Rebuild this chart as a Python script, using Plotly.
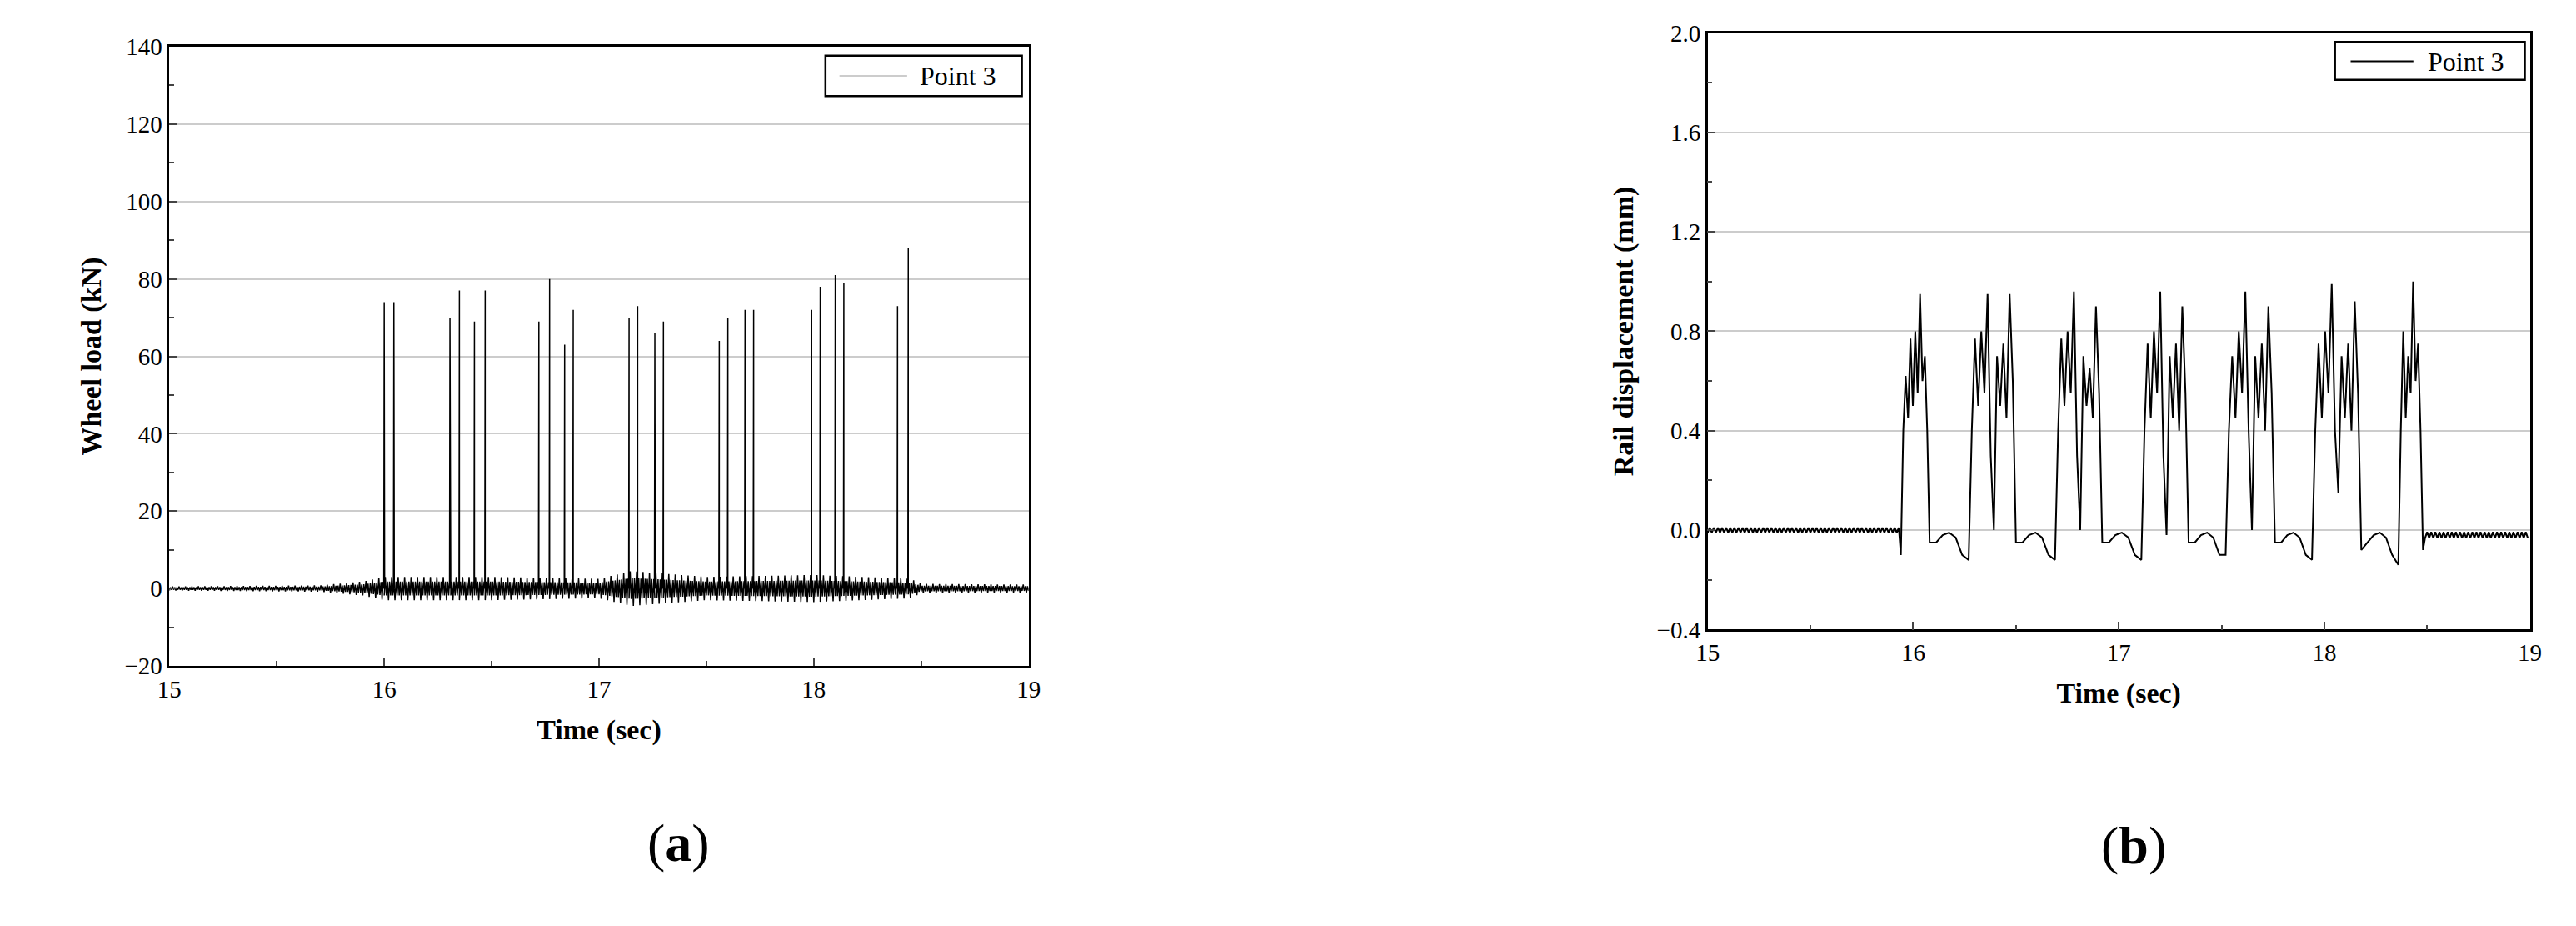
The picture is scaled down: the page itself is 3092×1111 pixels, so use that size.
import plotly.graph_objects as go

# ---------- data (a) wheel load ----------
spike_t = [16.00, 16.045, 16.306, 16.35, 16.42, 16.47, 16.72, 16.77, 16.84, 16.88,
           17.14, 17.18, 17.26, 17.30, 17.56, 17.60, 17.68, 17.72, 17.99, 18.03,
           18.10, 18.14, 18.39, 18.44]
spike_v = [74, 74, 70, 77, 69, 77, 69, 80, 63, 72,
           70, 73, 66, 69, 64, 70, 72, 72, 72, 78,
           81, 79, 73, 88]
noise_t = [15.0, 15.7, 15.9, 16.0, 16.5, 17.0, 17.15, 17.5, 18.0, 18.45, 18.5, 19.0]
noise_a = [0.5, 0.8, 1.8, 3.0, 3.0, 2.5, 4.5, 3.0, 3.5, 2.5, 1.2, 1.0]

# ---------- data (b) rail displacement ----------
grp_start = [15.94, 16.27, 16.69, 17.11, 17.52, 17.94, 18.36]
grp_end = [16.08, 16.50, 16.92, 17.34, 17.76, 18.18, 18.48]
grp_vals = [
    [-0.10, 0.40, 0.62, 0.45, 0.77, 0.50, 0.80, 0.55, 0.95, 0.60, 0.70, 0.40, -0.05],
    [-0.12, 0.40, 0.77, 0.50, 0.80, 0.55, 0.95, 0.30, 0.0, 0.70, 0.50, 0.75, 0.45, 0.95, 0.60, -0.05],
    [-0.12, 0.40, 0.77, 0.50, 0.80, 0.55, 0.96, 0.30, 0.0, 0.70, 0.50, 0.65, 0.45, 0.90, 0.55, -0.05],
    [-0.12, 0.40, 0.75, 0.45, 0.80, 0.55, 0.96, 0.30, -0.02, 0.70, 0.45, 0.75, 0.40, 0.90, 0.55, -0.05],
    [-0.10, 0.40, 0.70, 0.45, 0.80, 0.55, 0.96, 0.40, 0.0, 0.70, 0.45, 0.75, 0.40, 0.90, 0.55, -0.05],
    [-0.12, 0.40, 0.75, 0.45, 0.80, 0.55, 0.99, 0.40, 0.15, 0.70, 0.45, 0.75, 0.40, 0.92, 0.55, -0.08],
    [-0.14, 0.40, 0.80, 0.45, 0.70, 0.55, 1.00, 0.60, 0.75, 0.40, -0.08],
]
gap_vals = [-0.05, -0.02, -0.01, -0.03, -0.10]

# ---------- build series ----------
def envelope(t):
    for i in range(len(noise_t) - 1):
        if noise_t[i] <= t <= noise_t[i + 1]:
            f = (t - noise_t[i]) / (noise_t[i + 1] - noise_t[i])
            return noise_a[i] + f * (noise_a[i + 1] - noise_a[i])
    return noise_a[-1]

xa, ya = [], []
n = 800
spikes = sorted(zip(spike_t, spike_v))
si = 0
for k in range(n + 1):
    t = 15 + 4 * k / n
    while si < len(spikes) and spikes[si][0] <= t:
        st, sv = spikes[si]
        xa += [st - 0.002, st, st + 0.002]
        ya += [0, sv, 0]
        si += 1
    s = 1 if k % 2 else -1
    xa.append(t)
    ya.append(s * envelope(t) * (0.6 if k % 3 else 1.0))

xb, yb = [], []
t = 15.0
k = 0
while t < grp_start[0] - 0.005:
    xb.append(t); yb.append(0.01 if k % 2 else -0.01)
    t += 0.01; k += 1
for g in range(len(grp_start)):
    vals = grp_vals[g]
    for j, v in enumerate(vals):
        xb.append(grp_start[g] + (grp_end[g] - grp_start[g]) * j / (len(vals) - 1))
        yb.append(v)
    if g + 1 < len(grp_start):
        a, b = grp_end[g], grp_start[g + 1]
        for j, v in enumerate(gap_vals):
            xb.append(a + (b - a) * (j + 1) / (len(gap_vals) + 1))
            yb.append(v)
t = grp_end[-1] + 0.01
k = 0
while t <= 19.0:
    xb.append(t); yb.append(-0.02 + (0.012 if k % 2 else -0.012))
    t += 0.01; k += 1

fig = go.Figure()
fig.add_trace(go.Scatter(x=xa, y=ya, mode="lines", line=dict(color="black", width=1.5),
                         xaxis="x", yaxis="y", showlegend=False))
fig.add_trace(go.Scatter(x=xb, y=yb, mode="lines", line=dict(color="black", width=2),
                         xaxis="x2", yaxis="y2", showlegend=False))

F = "Liberation Serif"
TF = dict(family=F, size=34, color="black")
ax = dict(showline=True, linecolor="black", linewidth=2.5, mirror=True, ticks="inside",
          ticklen=10, tickwidth=1.5, tickfont=dict(family=F, size=29, color="black"),
          zeroline=False)
minor = dict(ticks="inside", ticklen=6, tickwidth=1.5, showgrid=False)
fig.update_layout(
    width=3092, height=1111, paper_bgcolor="white", plot_bgcolor="white",
    margin=dict(l=0, r=0, t=0, b=0),
    xaxis=dict(ax, domain=[0.0592, 0.3959], range=[15, 19], dtick=1, showgrid=False,
               minor=dict(minor, dtick=0.5), anchor="y",
               title=dict(text="<b>Time (sec)</b>", font=TF, standoff=22)),
    yaxis=dict(ax, domain=[0.2817, 0.9703], range=[-20, 140], dtick=20, showgrid=True,
               gridcolor="#cccccc", gridwidth=1.5, minor=dict(minor, dtick=10), anchor="x",
               title=dict(text="<b>Wheel load (kN)</b>", font=TF, standoff=18)),
    xaxis2=dict(ax, domain=[0.662, 0.9842], range=[15, 19], dtick=1, showgrid=False,
                minor=dict(minor, dtick=0.5), anchor="y2",
                title=dict(text="<b>Time (sec)</b>", font=TF, standoff=22)),
    yaxis2=dict(ax, domain=[0.3222, 0.9856], range=[-0.4, 2.0], dtick=0.4, tickformat=".1f",
                showgrid=True, gridcolor="#cccccc", gridwidth=1.5, minor=dict(minor, dtick=0.2),
                anchor="x2",
                title=dict(text="<b>Rail displacement (mm)</b>", font=TF, standoff=18)),
)

def px(x): return x / 3092
def py(y): return 1 - y / 1111

shapes = [
    dict(type="rect", xref="paper", yref="paper", x0=px(978), x1=px(1216), y0=py(94), y1=py(44),
         line=dict(color="black", width=2.5), fillcolor="white"),
    dict(type="line", xref="paper", yref="paper", x0=px(995), x1=px(1077), y0=py(69), y1=py(69),
         line=dict(color="#bbbbbb", width=1.5)),
    dict(type="rect", xref="paper", yref="paper", x0=px(2807), x1=px(3037), y0=py(74), y1=py(27),
         line=dict(color="black", width=2.5), fillcolor="white"),
    dict(type="line", xref="paper", yref="paper", x0=px(2826), x1=px(2902), y0=py(51), y1=py(51),
         line=dict(color="black", width=2)),
]
ann = [
    dict(text="Point 3", x=px(1090), y=py(69), xanchor="left", yanchor="middle"),
    dict(text="Point 3", x=px(2917), y=py(51), xanchor="left", yanchor="middle"),
]
for a in ann:
    a.update(xref="paper", yref="paper", showarrow=False, font=dict(family=F, size=32, color="black"))
ann += [
    dict(text="(<b>a</b>)", x=px(760), y=py(1055), xref="paper", yref="paper", showarrow=False,
         font=dict(family=F, size=64, color="black")),
    dict(text="(<b>b</b>)", x=px(2604), y=py(1058), xref="paper", yref="paper", showarrow=False,
         font=dict(family=F, size=64, color="black")),
]
fig.update_layout(shapes=shapes, annotations=ann)
fig.write_html("out.html")
